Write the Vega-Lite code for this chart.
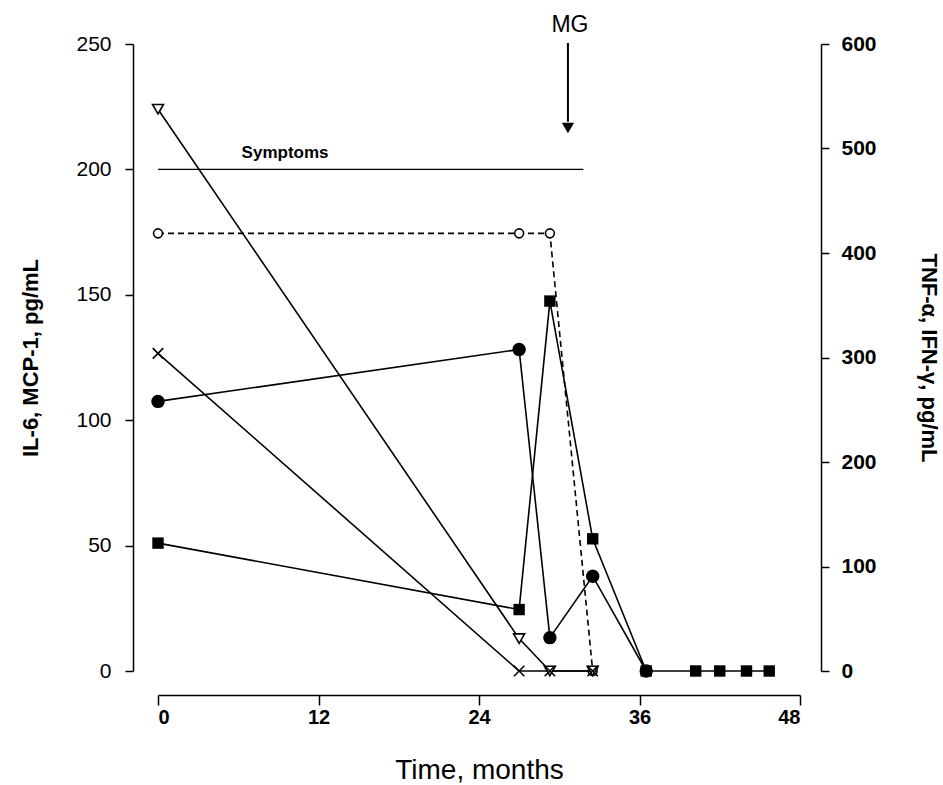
{
  "$schema": "https://vega.github.io/schema/vega-lite/v6.json",
  "width": 642,
  "height": 627,
  "autosize": {"type": "none"},
  "padding": {"left": 158, "top": 44, "right": 143, "bottom": 114},
  "background": "white",
  "config": {
    "view": {"stroke": null},
    "font": "Liberation Sans",
    "axis": {
      "domainColor": "black", "tickColor": "black", "labelColor": "black", "titleColor": "black",
      "domainWidth": 1.5, "tickWidth": 1.5, "grid": false,
      "labelFont": "Liberation Sans", "titleFont": "Liberation Sans",
      "labelFontSize": 19, "titleFontWeight": "normal"
    }
  },
  "datasets": {
    "left": [
      {"series": "square", "month": 0, "value": 51},
      {"series": "square", "month": 27, "value": 24.5},
      {"series": "square", "month": 29.3, "value": 147.5},
      {"series": "square", "month": 32.5, "value": 52.7},
      {"series": "square", "month": 36.5, "value": 0},
      {"series": "square", "month": 40.2, "value": 0},
      {"series": "square", "month": 42, "value": 0},
      {"series": "square", "month": 44, "value": 0},
      {"series": "square", "month": 45.7, "value": 0},
      {"series": "circle", "month": 0, "value": 107.5},
      {"series": "circle", "month": 27, "value": 128.2},
      {"series": "circle", "month": 29.3, "value": 13.3},
      {"series": "circle", "month": 32.5, "value": 37.8},
      {"series": "circle", "month": 36.5, "value": 0},
      {"series": "open", "month": 0, "value": 174.5},
      {"series": "open", "month": 27, "value": 174.5},
      {"series": "open", "month": 29.3, "value": 174.5},
      {"series": "open", "month": 32.5, "value": 0}
    ],
    "right": [
      {"series": "triangle", "month": 0, "value": 537.6},
      {"series": "triangle", "month": 27, "value": 31},
      {"series": "triangle", "month": 29.3, "value": 0},
      {"series": "triangle", "month": 32.5, "value": 0},
      {"series": "x", "month": 0, "value": 304},
      {"series": "x", "month": 27, "value": 0},
      {"series": "x", "month": 29.3, "value": 0},
      {"series": "x", "month": 32.5, "value": 0}
    ]
  },
  "resolve": {"scale": {"y": "independent"}},
  "layer": [
    {
      "encoding": {
        "x": {"field": "month", "type": "quantitative",
              "scale": {"domain": [0, 48], "nice": false, "zero": false},
              "axis": {"values": [0, 12, 24, 36, 48], "offset": 24, "tickSize": 10, "labelPadding": 2,
                       "labelFontWeight": "bold", "labelFontSize": 20, "title": "Time, months", "titleFontSize": 28, "titlePadding": 29}},
        "y": {"field": "value", "type": "quantitative",
              "scale": {"domain": [0, 250], "nice": false},
              "axis": {"orient": "left", "values": [0, 50, 100, 150, 200, 250], "offset": 25, "tickSize": 8,
                       "labelPadding": 14, "labelFontSize": 21, "title": "IL-6, MCP-1, pg/mL", "titleFontSize": 22, "titleFontWeight": "bold", "titlePadding": 33}}
      },
      "layer": [
        {"data": {"name": "left"}, "transform": [{"filter": "datum.series !== 'open'"}],
         "mark": {"type": "line", "color": "black", "strokeWidth": 1.6},
         "encoding": {"detail": {"field": "series"}}},
        {"data": {"name": "left"}, "transform": [{"filter": "datum.series === 'open'"}],
         "mark": {"type": "line", "color": "black", "strokeWidth": 1.6, "strokeDash": [6, 4]}},
        {"data": {"name": "left"}, "transform": [{"filter": "datum.series === 'square'"}],
         "mark": {"type": "point", "shape": "square", "filled": true, "color": "black", "size": 130, "opacity": 1}},
        {"data": {"name": "left"}, "transform": [{"filter": "datum.series === 'circle'"}],
         "mark": {"type": "point", "shape": "circle", "filled": true, "color": "black", "size": 180, "opacity": 1}},
        {"data": {"name": "left"}, "transform": [{"filter": "datum.series === 'open'"}],
         "mark": {"type": "point", "shape": "circle", "fill": "white", "stroke": "black", "strokeWidth": 1.6, "size": 80, "opacity": 1, "filled": true}},
        {"data": {"values": [{"start": 0, "end": 31.8, "value": 200}]},
         "mark": {"type": "rule", "color": "black", "strokeWidth": 1.3},
         "encoding": {"x": {"field": "start", "type": "quantitative"}, "x2": {"field": "end"}, "y": {"field": "value", "type": "quantitative"}}},
        {"data": {"values": [{"month": 9.5, "value": 203, "label": "Symptoms"}]},
         "mark": {"type": "text", "fontSize": 17, "fontWeight": "bold", "color": "black", "baseline": "bottom"},
         "encoding": {"text": {"field": "label"}}},
        {"data": {"values": [{"month": 30.65, "top": 250.4, "bottom": 219}]},
         "mark": {"type": "rule", "color": "black", "strokeWidth": 2},
         "encoding": {"x": {"field": "month", "type": "quantitative"}, "y": {"field": "top", "type": "quantitative"}, "y2": {"field": "bottom"}}},
        {"data": {"values": [{"month": 30.65, "value": 216.5}]},
         "mark": {"type": "point", "shape": "triangle-down", "filled": true, "color": "black", "size": 150, "opacity": 1}},
        {"data": {"values": [{"month": 30.8, "value": 257.6, "label": "MG"}]},
         "mark": {"type": "text", "fontSize": 23, "color": "black", "baseline": "middle"},
         "encoding": {"text": {"field": "label"}}}
      ]
    },
    {
      "data": {"name": "right"},
      "encoding": {
        "x": {"field": "month", "type": "quantitative", "scale": {"domain": [0, 48], "nice": false, "zero": false}},
        "y": {"field": "value", "type": "quantitative",
              "scale": {"domain": [0, 600], "nice": false},
              "axis": {"orient": "right", "values": [0, 100, 200, 300, 400, 500, 600], "offset": 21, "tickSize": 8,
                       "labelPadding": 12, "labelFontSize": 21, "labelFontWeight": "bold", "title": "TNF-α, IFN-γ, pg/mL", "titleFontSize": 22, "titleFontWeight": "bold", "titlePadding": 40}}
      },
      "layer": [
        {"mark": {"type": "line", "color": "black", "strokeWidth": 1.6},
         "encoding": {"detail": {"field": "series"}}},
        {"transform": [{"filter": "datum.series === 'triangle'"}],
         "mark": {"type": "point", "shape": "triangle-down", "fill": "white", "stroke": "black", "strokeWidth": 1.6, "size": 120, "filled": true, "opacity": 1}},
        {"transform": [{"filter": "datum.series === 'x'"}],
         "mark": {"type": "point", "shape": "M-1,-1L1,1M-1,1L1,-1", "fill": null, "stroke": "black", "strokeWidth": 1.6, "size": 110, "opacity": 1}}
      ]
    }
  ]
}
